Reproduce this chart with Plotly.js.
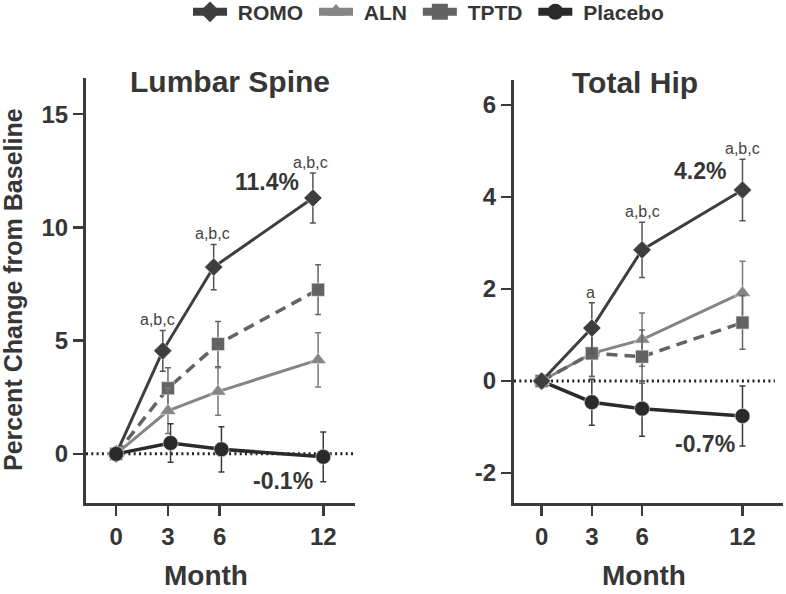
<!DOCTYPE html>
<html>
<head>
<meta charset="utf-8">
<script src="https://cdn.plot.ly/plotly-3.0.1.min.js"></script>
<style>html,body{margin:0;padding:0;background:#fff;}#chart{width:786px;height:594px;}</style>
</head>
<body>
<div id="chart"></div>
<script>
// ---- data ----
var seriesNames = ["ROMO", "ALN", "TPTD", "Placebo"];
var monthTicks = [0, 3, 6, 12];

// Lumbar spine (x values include small dodge offsets as drawn)
var lsRomoX = [0, 2.7, 5.65, 11.4];
var lsRomoY = [0, 4.55, 8.25, 11.3];
var lsRomoErr = [0, 0.9, 1.0, 1.1];
var lsAlnX = [0, 3.0, 5.9, 11.7];
var lsAlnY = [0, 1.9, 2.75, 4.15];
var lsAlnErr = [0, 1.0, 1.05, 1.2];
var lsTptdX = [0, 3.0, 5.9, 11.7];
var lsTptdY = [0, 2.9, 4.85, 7.25];
var lsTptdErr = [0, 0.9, 1.0, 1.1];
var lsPlaX = [0, 3.15, 6.1, 12.0];
var lsPlaY = [0, 0.48, 0.2, -0.13];
var lsPlaErr = [0, 0.85, 1.0, 1.1];

// Total hip
var thX = [0, 3, 6, 12];
var thRomoY = [0, 1.15, 2.85, 4.15];
var thRomoErr = [0, 0.55, 0.6, 0.67];
var thAlnY = [0, 0.6, 0.9, 1.92];
var thAlnErr = [0, 0.5, 0.58, 0.68];
var thTptdY = [0, 0.6, 0.53, 1.27];
var thTptdErr = [0, 0.5, 0.58, 0.58];
var thPlaY = [0, -0.46, -0.6, -0.76];
var thPlaErr = [0, 0.5, 0.6, 0.65];

var lsSig = ["", "a,b,c", "a,b,c", "a,b,c"];
var thSig = ["", "a", "a,b,c", "a,b,c"];
var lsEndLabels = ["11.4%", "-0.1%"];
var thEndLabels = ["4.2%", "-0.7%"];

// ---- styles ----
var C = {ROMO: "#3e3e3e", ALN: "#858585", TPTD: "#636363", Placebo: "#2a2a2a"};
var ERR = {ROMO: "#555555", ALN: "#7a7a7a", TPTD: "#666666", Placebo: "#3a3a3a"};
var SYM = {ROMO: "diamond", ALN: "triangle-up", TPTD: "square", Placebo: "circle"};
var SIZE = {ROMO: 14, ALN: 14, TPTD: 13, Placebo: 15};
var LW = {ROMO: 3, ALN: 3, TPTD: 3.5, Placebo: 3.5};
var DASH = {ROMO: "solid", ALN: "solid", TPTD: "11px,7px", Placebo: "solid"};
var FONT = "Liberation Sans, Arial, sans-serif";
var TXT = "#363636";

function tr(name, x, y, err, xa, ya) {
  return {
    type: "scatter", mode: "lines+markers", name: name, showlegend: false,
    x: x, y: y, xaxis: xa, yaxis: ya,
    line: {color: C[name], width: LW[name], dash: DASH[name]},
    marker: {symbol: SYM[name], size: SIZE[name], color: C[name], line: {color: "#e8e8e8", width: 0.6}},
    error_y: {type: "data", array: err, visible: true, color: ERR[name], thickness: 1.5, width: 3},
    cliponaxis: false, hoverinfo: "skip"
  };
}

var data = [
  tr("ROMO", lsRomoX, lsRomoY, lsRomoErr, "x", "y"),
  tr("TPTD", lsTptdX, lsTptdY, lsTptdErr, "x", "y"),
  tr("ALN", lsAlnX, lsAlnY, lsAlnErr, "x", "y"),
  tr("Placebo", lsPlaX, lsPlaY, lsPlaErr, "x", "y"),
  tr("Placebo", thX, thPlaY, thPlaErr, "x2", "y2"),
  tr("ALN", thX, thAlnY, thAlnErr, "x2", "y2"),
  tr("TPTD", thX, thTptdY, thTptdErr, "x2", "y2"),
  tr("ROMO", thX, thRomoY, thRomoErr, "x2", "y2")
];
// legend-only entries (non-breaking spaces only pad the spacing)
seriesNames.forEach(function (n) {
  data.push({
    type: "scatter", mode: "lines+markers", name: "\u00a0" + n + "\u00a0", x: [null], y: [null],
    xaxis: "x", yaxis: "y", showlegend: true,
    line: {color: C[n], width: 8},
    marker: {symbol: SYM[n], size: 16, color: C[n]}
  });
});

function xax(domain, range) {
  return {
    domain: domain, range: range, tickvals: monthTicks, ticktext: monthTicks.map(String),
    showline: true, linewidth: 3, linecolor: "#3a3a3a", ticks: "outside", ticklen: 10,
    tickwidth: 2.5, tickcolor: "#3a3a3a", showgrid: false, zeroline: false,
    tickfont: {family: FONT, size: 24, color: TXT, weight: "bold"}, fixedrange: true
  };
}
function yax(domain, range, ticks, anchor) {
  return {
    domain: domain, range: range, tickvals: ticks, ticktext: ticks.map(String), anchor: anchor,
    showline: true, linewidth: 3, linecolor: "#3a3a3a", ticks: "outside", ticklen: 10,
    tickwidth: 2.5, tickcolor: "#3a3a3a", showgrid: false, zeroline: false,
    tickfont: {family: FONT, size: 24, color: TXT, weight: "bold"}, fixedrange: true
  };
}

var annotations = [];
function paperText(text, px, py, size, extra) {
  var a = {text: text, xref: "paper", yref: "paper", x: px / 786, y: 1 - py / 594,
    xanchor: "center", yanchor: "middle", showarrow: false,
    font: {family: FONT, size: size, color: TXT, weight: "bold"}};
  for (var k in extra) a[k] = extra[k];
  annotations.push(a);
}
paperText("Lumbar Spine", 230, 81, 30);
paperText("Total Hip", 635, 82, 30);
paperText("Month", 206, 575, 28);
paperText("Month", 644, 575, 28);
paperText("Percent Change from Baseline", 13, 290, 25, {textangle: -90});

function sig(labels, x, y, err, xa, ya, xs) {
  for (var i = 0; i < labels.length; i++) {
    if (!labels[i]) continue;
    annotations.push({text: labels[i], xref: xa, yref: ya, x: x[i], y: y[i] + err[i],
      xanchor: "center", yanchor: "bottom", yshift: 0, xshift: xs[i], showarrow: false,
      font: {family: FONT, size: 16, color: "#444444"}});
  }
}
sig(lsSig, lsRomoX, lsRomoY, lsRomoErr, "x", "y", [0, -5, -1, -2]);
sig(thSig, thX, thRomoY, thRomoErr, "x2", "y2", [0, -1, 0, 0]);

function endLabel(text, x, y, xa, ya, xs, ys) {
  annotations.push({text: text, xref: xa, yref: ya, x: x, y: y, xanchor: "right", yanchor: "middle",
    xshift: xs, yshift: ys, showarrow: false, font: {family: FONT, size: 23, color: TXT, weight: "bold"}});
}
endLabel(lsEndLabels[0], lsRomoX[3], lsRomoY[3], "x", "y", -12, 16);
endLabel(lsEndLabels[1], lsPlaX[3], lsPlaY[3], "x", "y", -8, -24);
endLabel(thEndLabels[0], thX[3], thRomoY[3], "x2", "y2", -14, 19);
endLabel(thEndLabels[1], thX[3], thPlaY[3], "x2", "y2", -5, -28);

var shapes = [
  {type: "line", xref: "x domain", yref: "y", x0: 0, x1: 1, y0: 0, y1: 0,
   line: {color: "#222222", width: 3, dash: "2px,3.3px"}, layer: "below"},
  {type: "line", xref: "x2 domain", yref: "y2", x0: 0, x1: 0.97, y0: 0, y1: 0,
   line: {color: "#222222", width: 3, dash: "2px,3.3px"}, layer: "below"}
];

var layout = {
  width: 786, height: 594,
  margin: {l: 0, r: 0, t: 0, b: 0, pad: 0, autoexpand: false},
  paper_bgcolor: "#ffffff", plot_bgcolor: "#ffffff",
  showlegend: true,
  legend: {orientation: "h", x: 0.549, xanchor: "center", y: 1.014, yanchor: "top",
    font: {family: FONT, size: 21, color: TXT, weight: "bold"}, itemwidth: 34,
    bgcolor: "rgba(0,0,0,0)", itemclick: false, itemdoubleclick: false},
  xaxis: xax([86 / 786, 355 / 786], [-1.75, 13.84]),
  yaxis: yax([1 - 503 / 594, 1 - 78 / 594], [-2.17, 16.6], [0, 5, 10, 15], "x"),
  xaxis2: xax([514 / 786, 783 / 786], [-1.65, 14.42]),
  yaxis2: yax([1 - 503 / 594, 1 - 80 / 594], [-2.65, 6.54], [-2, 0, 2, 4, 6], "x2"),
  annotations: annotations,
  shapes: shapes
};
layout.xaxis.anchor = "y";
layout.xaxis2.anchor = "y2";

Plotly.newPlot("chart", data, layout, {displayModeBar: false, staticPlot: true});
</script>
</body>
</html>
